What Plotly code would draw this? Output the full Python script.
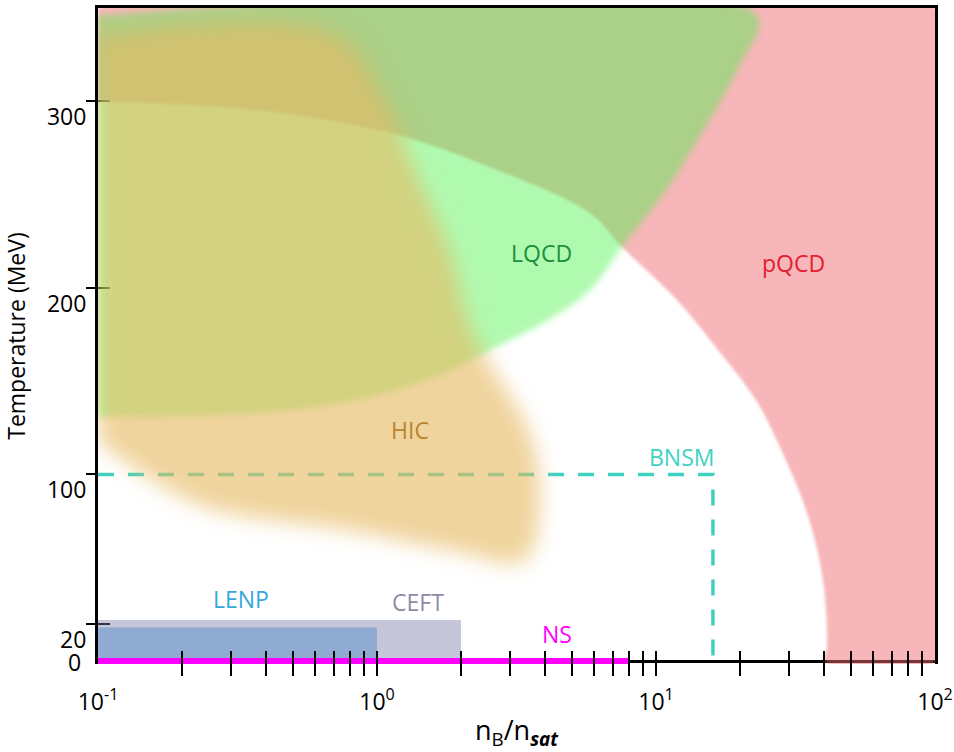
import math
import plotly.graph_objects as go

# ---------------- data ----------------
X_RANGE = [0.1, 100]          # n_B / n_sat (log axis)
T_RANGE = [0, 350]            # temperature, MeV

X_TICKS = [0.2, 0.3, 0.4, 0.5, 0.6, 0.7, 0.8, 0.9, 1,
           2, 3, 4, 5, 6, 7, 8, 9, 10,
           20, 30, 40, 50, 60, 70, 80, 90]
X_LABEL_VALS = [0.1, 1, 10, 100]
X_LABEL_TEXT = ["10<sup>-1</sup>", "10<sup>0</sup>", "10<sup>1</sup>", "10<sup>2</sup>"]
Y_TICKS = [20, 100, 200, 300]
Y_TICK_TEXT = ["20", "100", "200", "300"]
Y_ZERO_LABEL = "0"

# pQCD: everything outside this boundary (edge of the white region)
PQCD_EDGE_N = [0.1, 0.372, 1.113, 2.54, 5.80, 7.55, 11.9, 16.7, 22.8, 27.8, 34.8, 39.7, 41.0, 40.3]
PQCD_EDGE_T = [300, 295.3, 283, 264.7, 240, 221.9, 193.5, 166.7, 139.9, 114.7, 79.3, 43.4, 7.5, 0]

# LQCD region outline
LQCD_N = [0.1, 23.0, 19.8, 14.6, 10.7, 7.55, 5.80, 4.0, 2.76, 1.68, 0.847, 0.372, 0.1]
LQCD_T = [346, 346, 318.3, 283, 250.8, 221.9, 198.8, 181.7, 169.3, 153.3, 139.9, 132.9, 130.8]

# HIC region outline
HIC_N = [0.1, 0.708, 1.068, 1.368, 1.826, 2.21, 3.53, 3.84, 3.39, 1.826, 0.80, 0.232, 0.104, 0.1]
HIC_T = [336, 336, 300.6, 263, 220, 176, 122, 86, 54, 59.5, 70, 83.6, 115.8, 118]

# BNSM dashed box
BNSM_N = [0.1, 16, 16]
BNSM_T = [100, 100, 0]

# rectangular ranges: [n_min, n_max], T_max
CEFT_N = [0.1, 2.0]
CEFT_TMAX = 22
LENP_N = [0.1, 1.0]
LENP_TMAX = 18
NS_N = [0.1, 8.0]

# region labels: text, n, T, colour
LABELS = [
    ("LQCD", 3.90, 218.6, "#1b8f3c"),
    ("pQCD", 31.0, 213.3, "#e2202f"),
    ("HIC", 1.31, 123.8, "#b8862e"),
    ("BNSM", 12.3, 109.3, "#3fd2c2"),
    ("LENP", 0.3255, 33.2, "#35a9dd"),
    ("CEFT", 1.40, 31.6, "#8c8ca8"),
    ("NS", 4.42, 14.7, "#ff00ff"),
]

FONT = "Open Sans, Lato, DejaVu Sans, sans-serif"

# ---------------- geometry / style ----------------
W, H = 954, 752
M_L, M_R, M_T = 98, 19, 8
PAD_PX = 3                      # room below T=0 so the NS line is not cut
M_B = 91 - PAD_PX
PLOT_W = W - M_L - M_R
PLOT_H = H - M_T - M_B
T_PER_PX = (T_RANGE[1] - T_RANGE[0]) / (PLOT_H - PAD_PX)
Y_LOW = T_RANGE[0] - PAD_PX * T_PER_PX
ZERO_POS = PAD_PX / PLOT_H       # paper position of T = 0
TICK_IN_X = 11                   # px of the x ticks inside the frame
TICK_IN_Y = 12                   # px of the y ticks inside the frame

fig = go.Figure()

def fill_trace(xs, ys, color, uid, shape="spline"):
    return go.Scatter(x=xs, y=ys, mode="lines", fill="toself", fillcolor=color,
                      line=dict(width=0, shape=shape), uid=uid,
                      hoverinfo="skip", showlegend=False)

# pQCD (outside the white region)
fig.add_trace(fill_trace(
    PQCD_EDGE_N + [X_RANGE[1], X_RANGE[1], X_RANGE[0]],
    PQCD_EDGE_T + [T_RANGE[0], T_RANGE[1], T_RANGE[1]],
    "rgba(240,110,115,0.5)", "soft_red"))

# BNSM dashed box
fig.add_trace(go.Scatter(
    x=BNSM_N, y=BNSM_T, mode="lines",
    line=dict(color="#40d0c0", width=3.5, dash="16px,14px"),
    uid="bnsm", hoverinfo="skip", showlegend=False))

# LQCD
fig.add_trace(fill_trace(LQCD_N, LQCD_T, "rgba(67,243,67,0.42)", "soft_lqcd"))
# HIC
fig.add_trace(fill_trace(HIC_N, HIC_T, "rgba(230,185,98,0.62)", "soft_hic"))

# CEFT and LENP boxes
fig.add_trace(fill_trace([CEFT_N[0], CEFT_N[1], CEFT_N[1], CEFT_N[0]],
                         [0, 0, CEFT_TMAX, CEFT_TMAX],
                         "rgba(120,120,170,0.42)", "ceft", shape="linear"))
fig.add_trace(fill_trace([LENP_N[0], LENP_N[1], LENP_N[1], LENP_N[0]],
                         [0, 0, LENP_TMAX, LENP_TMAX],
                         "rgba(100,150,200,0.55)", "lenp", shape="linear"))

# NS line along T = 0
fig.add_trace(go.Scatter(x=NS_N, y=[0, 0], mode="lines",
                         line=dict(color="#ff00ff", width=6),
                         uid="ns", hoverinfo="skip", showlegend=False))

# empty carriers so that the helper (tick / frame) axes are drawn
for xa, ya in (("x2", "y"), ("x3", "y"), ("x", "y2")):
    fig.add_trace(go.Scatter(x=X_RANGE, y=T_RANGE, mode="none", xaxis=xa, yaxis=ya,
                             hoverinfo="skip", showlegend=False))

for text, n, t, col in LABELS:
    fig.add_annotation(x=math.log10(n), y=t, xref="x", yref="y", text=text,
                       showarrow=False, font=dict(family=FONT, size=23, color=col))

tickfont = dict(family=FONT, size=23, color="black")
# "0" label of the temperature axis (sits beside the corner, no tick)
fig.add_annotation(x=0, y=0, xref="paper", yref="y", text=Y_ZERO_LABEL,
                   xanchor="right", yanchor="middle", xshift=-15, yshift=-1,
                   showarrow=False, font=tickfont)

logr = [math.log10(X_RANGE[0]), math.log10(X_RANGE[1])]
yr = [Y_LOW, T_RANGE[1]]
noax = dict(showgrid=False, zeroline=False, automargin=False)

fig.update_layout(
    width=W, height=H,
    margin=dict(l=M_L, r=M_R, t=M_T, b=M_B),
    paper_bgcolor="white", plot_bgcolor="white",
    hovermode=False, showlegend=False,
    font=dict(family=FONT, color="black"),
    # bottom axis line + decade labels + title (at T = 0)
    xaxis=dict(type="log", range=logr, anchor="free", position=ZERO_POS,
               showline=True, linecolor="black", linewidth=3, ticks="",
               tickvals=X_LABEL_VALS, ticktext=X_LABEL_TEXT, tickfont=tickfont,
               ticklabelstandoff=19, layer="below traces",
               title=dict(text="n<sub>B</sub>/n<sub><b><i>sat</i></b></sub>",
                          font=dict(family=FONT, size=27, color="black"), standoff=6),
               **noax),
    # crossing tick marks of the x axis
    xaxis2=dict(type="log", range=logr, overlaying="x", anchor="free",
                position=(PAD_PX + TICK_IN_X) / PLOT_H, side="bottom",
                ticks="outside", ticklen=25, tickwidth=2, tickcolor="black",
                tickvals=X_TICKS, showticklabels=False, showline=False,
                layer="above traces", **noax),
    # top frame line
    xaxis3=dict(type="log", range=logr, overlaying="x", anchor="y", side="top",
                showline=True, linecolor="black", linewidth=3, ticks="",
                showticklabels=False, layer="below traces", **noax),
    # left / right frame + temperature labels
    yaxis=dict(range=yr, showline=True, linecolor="black", linewidth=3, mirror=True,
               ticks="", tickvals=Y_TICKS, ticktext=Y_TICK_TEXT, tickfont=tickfont,
               ticklabelshift=16, ticklabelstandoff=4, layer="below traces",
               title=dict(text="Temperature (MeV)",
                          font=dict(family=FONT, size=23, color="black"), standoff=16),
               **noax),
    # crossing tick marks of the y axis
    yaxis2=dict(range=yr, overlaying="y", anchor="free",
                position=TICK_IN_Y / PLOT_W, side="left",
                ticks="outside", ticklen=24, tickwidth=2, tickcolor="black",
                tickvals=Y_TICKS, showticklabels=False, showline=False,
                layer="below traces", **noax),
)

# page without body margin; soften the edges of the shaded regions
POST = """
(function(){
  document.body.style.margin = '0';
  var gd = document.getElementById('{plot_id}');
  var specs = [['soft_red', 1.5, 0], ['soft_lqcd', 3, 2], ['soft_hic', 10, 3]];
  function apply(){
    var svg = gd.querySelector('svg.main-svg');
    if(!svg) return;
    var ns = 'http://www.w3.org/2000/svg';
    var defs = svg.querySelector('defs');
    if(!defs){ defs = document.createElementNS(ns, 'defs'); svg.insertBefore(defs, svg.firstChild); }
    var traces = gd.querySelectorAll('.scatterlayer .trace');
    specs.forEach(function(p){
      var fid = 'f_' + p[0];
      if(!document.getElementById(fid)){
        var f = document.createElementNS(ns, 'filter');
        f.setAttribute('id', fid);
        f.setAttribute('x', '-20%'); f.setAttribute('y', '-20%');
        f.setAttribute('width', '140%'); f.setAttribute('height', '140%');
        var b = document.createElementNS(ns, 'feGaussianBlur');
        b.setAttribute('stdDeviation', p[1]);
        f.appendChild(b); defs.appendChild(f);
      }
      var g = gd.querySelector('.trace' + p[0]) || traces[p[2]];
      if(g){
        var el = g.querySelector('.js-fill');
        if(el) el.style.filter = 'url(#' + fid + ')';
      }
    });
  }
  apply();
  if(gd.on) gd.on('plotly_afterplot', apply);
})();
"""

fig.write_html("out.html", post_script=POST, config={"displayModeBar": False})
